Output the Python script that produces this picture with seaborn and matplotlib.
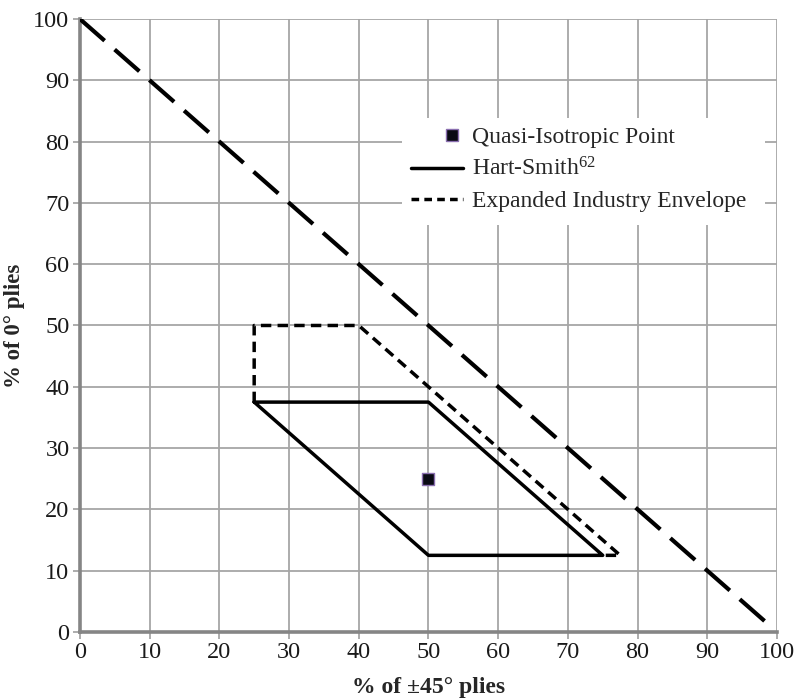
import numpy as np
import pandas as pd
import seaborn as sns
import matplotlib
matplotlib.use("Agg")
import matplotlib.pyplot as plt
from matplotlib.lines import Line2D
from matplotlib.patches import Rectangle
from matplotlib.legend_handler import HandlerBase

# ply-percentage envelopes (x = % of ±45° plies, y = % of 0° plies)
diag_x = [0, 98.5]
diag_y = [100, 1.5]
hart_x = [25, 50, 75, 50, 25]
hart_y = [37.5, 37.5, 12.5, 12.5, 37.5]
env_x = [25, 25, 40, 77.5, 75]
env_y = [37.5, 50, 50, 12.5, 12.5]
quasi_x = [50]
quasi_y = [25]

ticks = list(range(0, 101, 10))

sns.set_theme(style="whitegrid")
plt.rcParams['font.family'] = ['Liberation Serif', 'DejaVu Serif']
plt.rcParams['mathtext.fontset'] = 'custom'
plt.rcParams['mathtext.rm'] = 'Liberation Serif'
plt.rcParams['mathtext.it'] = 'Liberation Serif:italic'

fig = plt.figure(figsize=(7.99, 6.98), dpi=100)
ax = fig.add_axes([0.100, 0.0946, 0.8725, 0.8782])

sns.lineplot(x=diag_x, y=diag_y, sort=False, estimator=None, ax=ax,
             color="black", lw=3.0, zorder=3).lines[-1].set_dashes([7.9, 3.2])
sns.lineplot(x=hart_x, y=hart_y, sort=False, estimator=None, ax=ax,
             color="black", lw=2.5, zorder=3)
l = sns.lineplot(x=env_x, y=env_y, sort=False, estimator=None, ax=ax,
                 color="black", lw=2.5, zorder=3).lines[-1]
l.set_dashes([3.0, 1.8])
sns.scatterplot(x=quasi_x, y=quasi_y, ax=ax, marker="s", s=85, color="#0a0a14",
                edgecolor="#8a6fb0", linewidth=1.0, zorder=4)

ax.set_xlim(0, 100)
ax.set_ylim(0, 100)
ax.set_xticks(ticks)
ax.set_yticks(ticks)
ax.grid(True, color="#a6a6a6", lw=1.3)
for s in ["top", "right"]:
    ax.spines[s].set_visible(False)
for s in ["left", "bottom"]:
    ax.spines[s].set_color("#858585")
    ax.spines[s].set_linewidth(2.6)
ax.tick_params(axis="both", length=5, width=1.3, color="#a6a6a6",
               labelsize=17.5, labelcolor="#1a1a1a", pad=2.5, direction="out")
ax.tick_params(axis="both", which="both", bottom=True, left=True)

ax.set_xlabel("% of ±45° plies", fontsize=17, fontweight="bold", labelpad=10)
ax.set_ylabel("% of 0° plies", fontsize=16.5, fontweight="bold", labelpad=6)

# white box behind the legend hides the grid
ax.add_patch(Rectangle((46.2, 66.4), 52.1, 17.4, facecolor="white",
                       edgecolor="none", zorder=1))


class RightMarker(HandlerBase):
    def create_artists(self, legend, orig, xdescent, ydescent, width, height,
                       fontsize, trans):
        m = Line2D([width - xdescent - 8], [height / 2 - ydescent], ls="none",
                   marker="s", ms=8.5, color="#0a0a14",
                   markeredgecolor="#8a6fb0", markeredgewidth=1.0)
        m.set_transform(trans)
        return [m]


handles = [
    Line2D([], []),
    Line2D([], [], color="black", lw=2.5),
    Line2D([], [], color="black", lw=2.5, dashes=[2.2, 1.5]),
]
labels = ["Quasi-Isotropic Point", "Hart-Smith$^{62}$", "Expanded Industry Envelope"]
leg = ax.legend(handles, labels, loc="upper left", bbox_to_anchor=(0.448, 0.855),
                frameon=False, fontsize=17, handlelength=2.2, handletextpad=0.4,
                labelspacing=0.4, borderpad=0.3,
                handler_map={handles[0]: RightMarker()})
leg.set_zorder(5)

fig.savefig("out.png", dpi=100)
